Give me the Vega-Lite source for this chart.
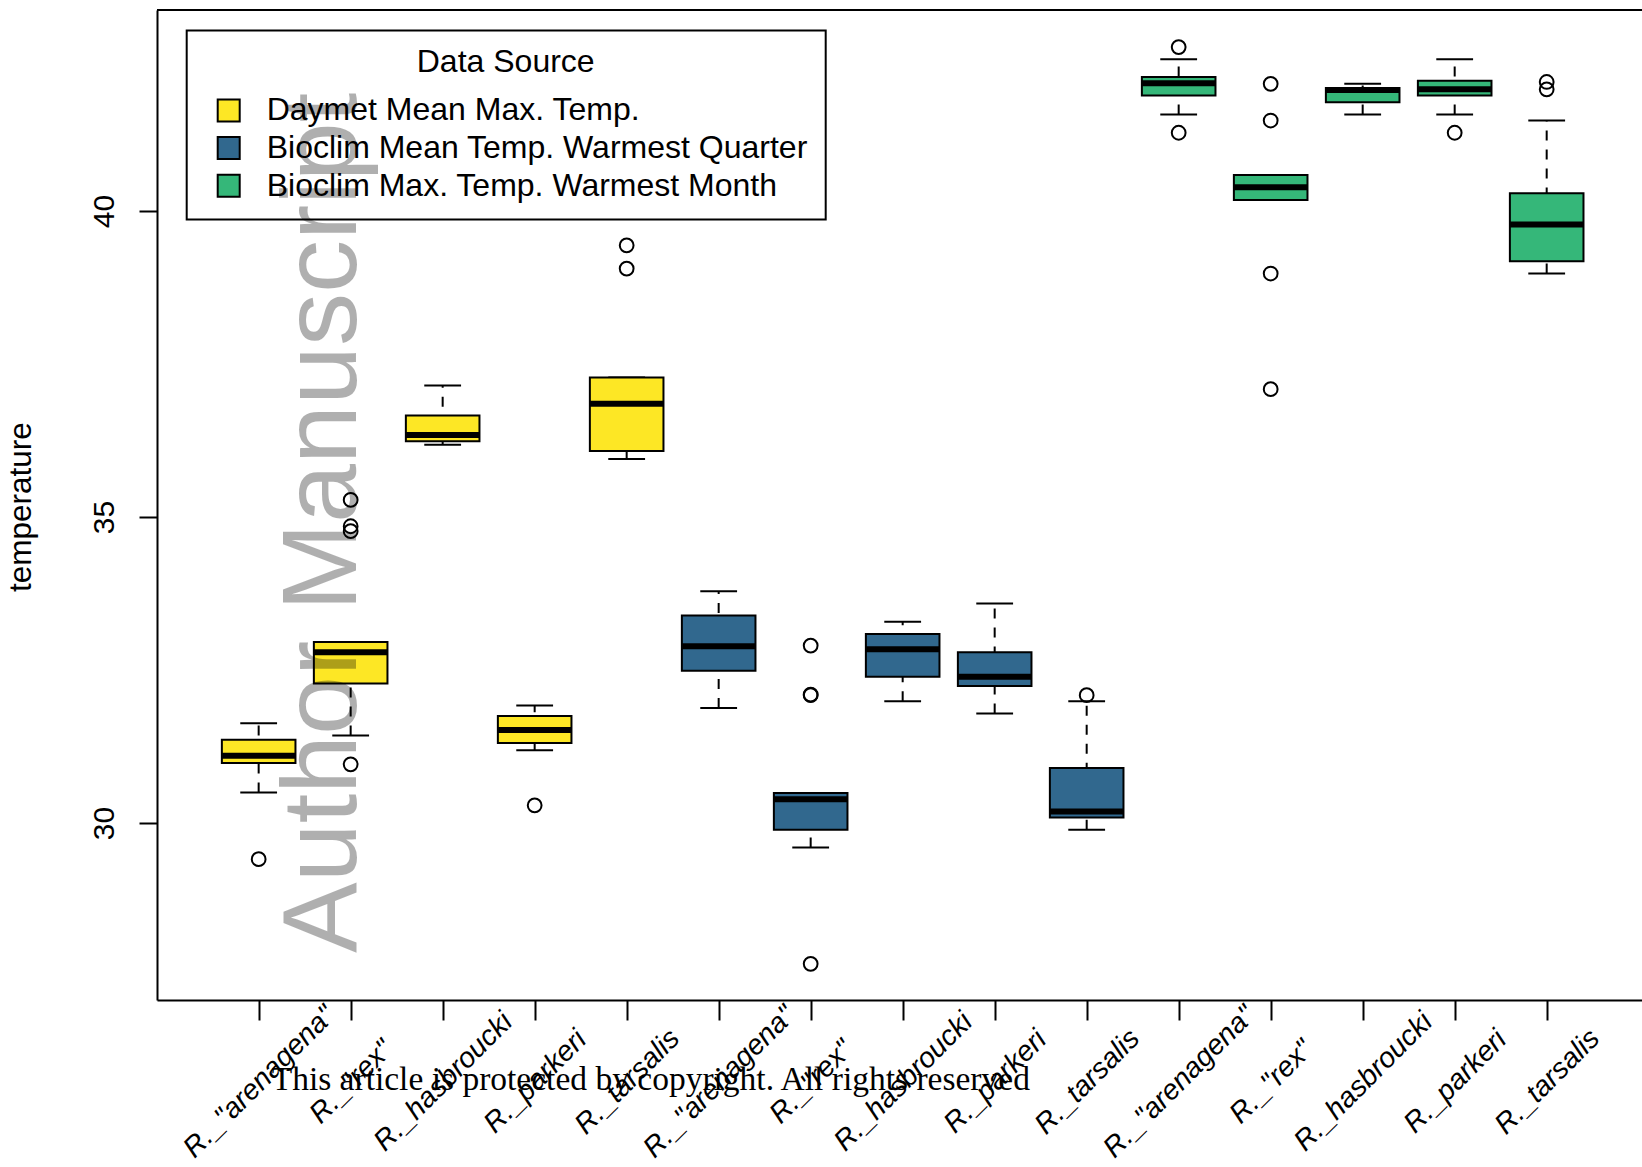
{
  "$schema": "https://vega.github.io/schema/vega-lite/v6.json",
  "width": 1485,
  "height": 990,
  "autosize": {"type": "none"},
  "padding": {"left": 157, "top": 10, "right": 0, "bottom": 167},
  "background": "white",
  "config": {
    "view": {"stroke": null},
    "font": "Liberation Sans",
    "axis": {
      "grid": false,
      "domainColor": "black",
      "domainWidth": 2,
      "tickColor": "black",
      "tickWidth": 2,
      "labelColor": "black",
      "titleColor": "black",
      "titleFontWeight": "normal",
      "labelFont": "Liberation Sans",
      "titleFont": "Liberation Sans"
    },
    "legend": {
      "strokeColor": "black",
      "strokeWidth": 2,
      "padding": 17,
      "titleFontSize": 32,
      "titleFontWeight": "normal",
      "titleColor": "black",
      "titleFont": "Liberation Sans",
      "titleAnchor": "middle",
      "titlePadding": 15,
      "labelFontSize": 32,
      "labelColor": "black",
      "labelFont": "Liberation Sans",
      "labelLimit": 800,
      "labelOffset": 22,
      "rowPadding": 5.7,
      "symbolType": "square",
      "symbolSize": 484,
      "symbolStrokeColor": "black",
      "symbolStrokeWidth": 2,
      "symbolOffset": 9,
      "symbolOpacity": 1
    }
  },
  "datasets": {
    "boxes": [
      {"pos": 1, "species": "R._\"arenagena\"", "source": "Daymet Mean Max. Temp.", "lo": 30.50, "q1": 30.98, "med": 31.10, "q3": 31.36, "hi": 31.63},
      {"pos": 2, "species": "R._\"rex\"", "source": "Daymet Mean Max. Temp.", "lo": 31.43, "q1": 32.28, "med": 32.79, "q3": 32.96, "hi": 32.96},
      {"pos": 3, "species": "R._hasbroucki", "source": "Daymet Mean Max. Temp.", "lo": 36.18, "q1": 36.24, "med": 36.34, "q3": 36.66, "hi": 37.15},
      {"pos": 4, "species": "R._parkeri", "source": "Daymet Mean Max. Temp.", "lo": 31.19, "q1": 31.31, "med": 31.52, "q3": 31.75, "hi": 31.92},
      {"pos": 5, "species": "R._tarsalis", "source": "Daymet Mean Max. Temp.", "lo": 35.95, "q1": 36.08, "med": 36.85, "q3": 37.28, "hi": 37.28},
      {"pos": 6, "species": "R._\"arenagena\"", "source": "Bioclim Mean Temp. Warmest Quarter", "lo": 31.88, "q1": 32.49, "med": 32.89, "q3": 33.39, "hi": 33.79},
      {"pos": 7, "species": "R._\"rex\"", "source": "Bioclim Mean Temp. Warmest Quarter", "lo": 29.60, "q1": 29.89, "med": 30.39, "q3": 30.49, "hi": 30.49},
      {"pos": 8, "species": "R._hasbroucki", "source": "Bioclim Mean Temp. Warmest Quarter", "lo": 31.99, "q1": 32.39, "med": 32.84, "q3": 33.09, "hi": 33.29},
      {"pos": 9, "species": "R._parkeri", "source": "Bioclim Mean Temp. Warmest Quarter", "lo": 31.79, "q1": 32.24, "med": 32.39, "q3": 32.79, "hi": 33.59},
      {"pos": 10, "species": "R._tarsalis", "source": "Bioclim Mean Temp. Warmest Quarter", "lo": 29.89, "q1": 30.09, "med": 30.19, "q3": 30.90, "hi": 31.99},
      {"pos": 11, "species": "R._\"arenagena\"", "source": "Bioclim Max. Temp. Warmest Month", "lo": 41.58, "q1": 41.89, "med": 42.09, "q3": 42.19, "hi": 42.48},
      {"pos": 12, "species": "R._\"rex\"", "source": "Bioclim Max. Temp. Warmest Month", "lo": 40.18, "q1": 40.18, "med": 40.39, "q3": 40.59, "hi": 40.59},
      {"pos": 13, "species": "R._hasbroucki", "source": "Bioclim Max. Temp. Warmest Month", "lo": 41.58, "q1": 41.78, "med": 41.98, "q3": 42.01, "hi": 42.08},
      {"pos": 14, "species": "R._parkeri", "source": "Bioclim Max. Temp. Warmest Month", "lo": 41.58, "q1": 41.89, "med": 41.99, "q3": 42.13, "hi": 42.48},
      {"pos": 15, "species": "R._tarsalis", "source": "Bioclim Max. Temp. Warmest Month", "lo": 38.98, "q1": 39.18, "med": 39.78, "q3": 40.29, "hi": 41.48}
    ],
    "outliers": [
      {"pos": 1, "value": 29.41},
      {"pos": 2, "value": 30.96},
      {"pos": 2, "value": 34.77},
      {"pos": 2, "value": 34.85},
      {"pos": 2, "value": 35.28},
      {"pos": 4, "value": 30.29},
      {"pos": 5, "value": 39.06},
      {"pos": 5, "value": 39.44},
      {"pos": 7, "value": 27.70},
      {"pos": 7, "value": 32.09},
      {"pos": 7, "value": 32.10},
      {"pos": 7, "value": 32.90},
      {"pos": 10, "value": 32.09},
      {"pos": 11, "value": 41.28},
      {"pos": 11, "value": 42.68},
      {"pos": 12, "value": 37.09},
      {"pos": 12, "value": 38.98},
      {"pos": 12, "value": 41.48},
      {"pos": 12, "value": 42.08},
      {"pos": 14, "value": 41.28},
      {"pos": 15, "value": 41.99},
      {"pos": 15, "value": 42.11}
    ],
    "watermark": [
      {"pos": 2.055, "temp": 27.877, "label": "Author Manuscript"}
    ],
    "notice": [
      {"pos": 5.262, "temp": 25.64, "label": "This article is protected by copyright. All rights reserved"}
    ]
  },
  "layer": [
    {
      "data": {"name": "boxes"},
      "mark": {"type": "rule", "color": "black", "strokeWidth": 2, "strokeDash": [10, 9], "opacity": 1},
      "encoding": {
        "x": {
          "field": "pos", "type": "quantitative",
          "scale": {"domain": [-0.105, 16.036], "nice": false, "zero": false, "padding": 0},
          "axis": {
            "values": [1, 2, 3, 4, 5, 6, 7, 8, 9, 10, 11, 12, 13, 14, 15],
            "labelExpr": "['R._\"arenagena\"','R._\"rex\"','R._hasbroucki','R._parkeri','R._tarsalis'][(datum.value-1)%5]",
            "labelAngle": -45,
            "labelAlign": "center",
            "labelBaseline": "middle",
            "labelPadding": 61,
            "tickSize": 20,
            "labelFontSize": 28.5,
            "labelFontStyle": "italic",
            "labelLimit": 0,
            "labelOverlap": false,
            "labelFlush": false,
            "labelBound": false,
            "title": null
          }
        },
        "y": {
          "field": "lo", "type": "quantitative",
          "scale": {"domain": [27.109, 43.286], "nice": false, "zero": false},
          "axis": {
            "values": [30, 35, 40],
            "format": "d",
            "labelAngle": 270,
            "labelAlign": "center",
            "labelBaseline": "alphabetic",
            "labelPadding": 26,
            "tickSize": 18,
            "labelFontSize": 30,
            "labelOverlap": false,
            "labelFlush": false,
            "title": "temperature",
            "titleFontSize": 31.5,
            "titleAngle": 270,
            "titleAlign": "center",
            "titleBaseline": "alphabetic",
            "titleX": -127,
            "titleY": 496.7
          }
        },
        "y2": {"field": "hi"}
      }
    },
    {
      "data": {"name": "boxes"},
      "mark": {"type": "tick", "orient": "horizontal", "size": 36.8, "thickness": 2, "color": "black", "opacity": 1},
      "encoding": {
        "x": {"field": "pos", "type": "quantitative", "scale": {"domain": [-0.105, 16.036], "nice": false, "zero": false, "padding": 0}},
        "y": {"field": "lo", "type": "quantitative", "scale": {"domain": [27.109, 43.286], "nice": false, "zero": false}, "title": "temperature"}
      }
    },
    {
      "data": {"name": "boxes"},
      "mark": {"type": "tick", "orient": "horizontal", "size": 36.8, "thickness": 2, "color": "black", "opacity": 1},
      "encoding": {
        "x": {"field": "pos", "type": "quantitative", "scale": {"domain": [-0.105, 16.036], "nice": false, "zero": false, "padding": 0}},
        "y": {"field": "hi", "type": "quantitative", "scale": {"domain": [27.109, 43.286], "nice": false, "zero": false}, "title": "temperature"}
      }
    },
    {
      "data": {"name": "boxes"},
      "mark": {"type": "bar", "size": 73.6, "stroke": "black", "strokeWidth": 2, "opacity": 1},
      "encoding": {
        "x": {"field": "pos", "type": "quantitative", "scale": {"domain": [-0.105, 16.036], "nice": false, "zero": false, "padding": 0}},
        "y": {"field": "q1", "type": "quantitative", "scale": {"domain": [27.109, 43.286], "nice": false, "zero": false}, "title": "temperature"},
        "y2": {"field": "q3"},
        "color": {
          "field": "source", "type": "nominal",
          "scale": {
            "domain": ["Daymet Mean Max. Temp.", "Bioclim Mean Temp. Warmest Quarter", "Bioclim Max. Temp. Warmest Month"],
            "range": ["#FDE725", "#31688E", "#35B779"]
          },
          "legend": {
            "title": "Data Source",
            "orient": "none",
            "legendX": 29.7,
            "legendY": 20.4
          }
        }
      }
    },
    {
      "data": {"name": "boxes"},
      "mark": {"type": "tick", "orient": "horizontal", "size": 73.6, "thickness": 6, "color": "black", "opacity": 1},
      "encoding": {
        "x": {"field": "pos", "type": "quantitative", "scale": {"domain": [-0.105, 16.036], "nice": false, "zero": false, "padding": 0}},
        "y": {"field": "med", "type": "quantitative", "scale": {"domain": [27.109, 43.286], "nice": false, "zero": false}, "title": "temperature"}
      }
    },
    {
      "data": {"name": "outliers"},
      "mark": {"type": "point", "shape": "circle", "filled": false, "size": 190, "stroke": "black", "strokeWidth": 2, "opacity": 1},
      "encoding": {
        "x": {"field": "pos", "type": "quantitative", "scale": {"domain": [-0.105, 16.036], "nice": false, "zero": false, "padding": 0}},
        "y": {"field": "value", "type": "quantitative", "scale": {"domain": [27.109, 43.286], "nice": false, "zero": false}, "title": "temperature"}
      }
    },
    {
      "data": {"values": [{"top": 43.286}]},
      "mark": {"type": "rule", "color": "black", "strokeWidth": 2, "opacity": 1},
      "encoding": {
        "y": {"field": "top", "type": "quantitative", "scale": {"domain": [27.109, 43.286], "nice": false, "zero": false}, "title": "temperature"}
      }
    },
    {
      "data": {"name": "watermark"},
      "mark": {"type": "text", "angle": 270, "align": "left", "baseline": "alphabetic", "fontSize": 106, "font": "Liberation Sans", "color": "black", "opacity": 0.31},
      "encoding": {
        "x": {"field": "pos", "type": "quantitative", "scale": {"domain": [-0.105, 16.036], "nice": false, "zero": false, "padding": 0}},
        "y": {"field": "temp", "type": "quantitative", "scale": {"domain": [27.109, 43.286], "nice": false, "zero": false}, "title": "temperature"},
        "text": {"field": "label"}
      }
    },
    {
      "data": {"name": "notice"},
      "mark": {"type": "text", "align": "center", "baseline": "alphabetic", "fontSize": 33.5, "font": "Liberation Serif", "color": "black", "opacity": 1},
      "encoding": {
        "x": {"field": "pos", "type": "quantitative", "scale": {"domain": [-0.105, 16.036], "nice": false, "zero": false, "padding": 0}},
        "y": {"field": "temp", "type": "quantitative", "scale": {"domain": [27.109, 43.286], "nice": false, "zero": false}, "title": "temperature"},
        "text": {"field": "label"}
      }
    }
  ]
}
